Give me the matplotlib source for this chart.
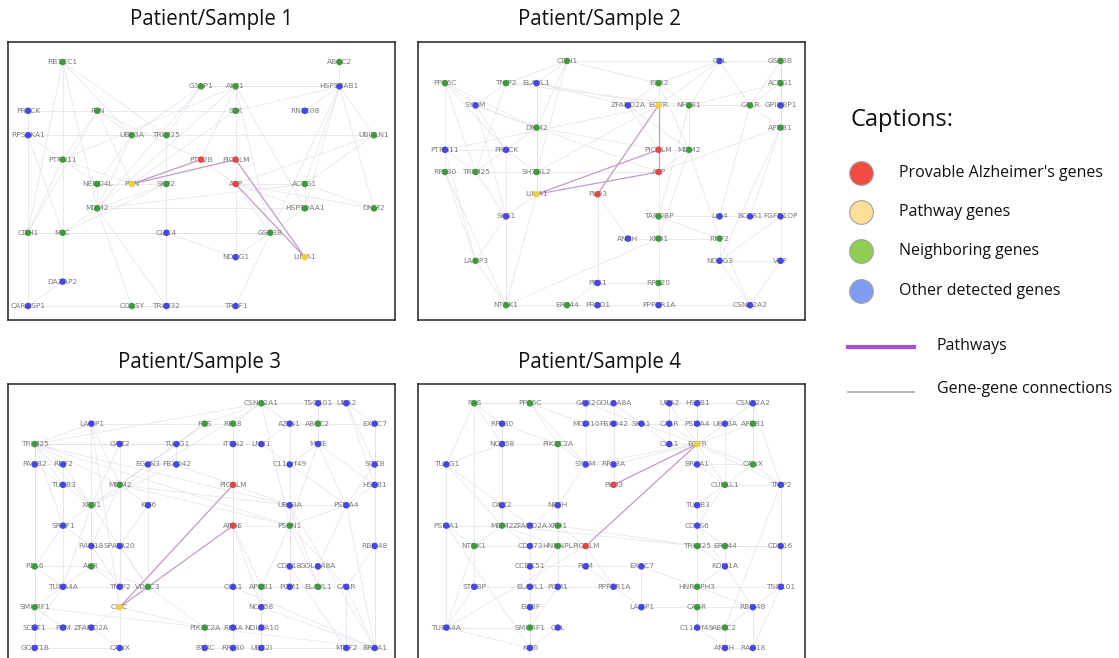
import matplotlib
matplotlib.use("Agg")
import matplotlib.pyplot as plt

W, H = 1119, 658

# gene tables: (name, grid column, grid row, group)
# groups: r = provable Alzheimer's gene, y = pathway gene, g = neighbour, b = other detected
nodes_1 = [
    ("RB1CC1", 1, 0, "g"), ("ABCC2", 9, 0, "g"),
    ("G3BP1", 5, 1, "g"), ("AKT1", 6, 1, "g"), ("HSP90AB1", 9, 1, "b"),
    ("PRKCK", 0, 2, "b"), ("FYN", 2, 2, "g"), ("SYK", 6, 2, "g"), ("RNF208", 8, 2, "b"),
    ("RPS6KA1", 0, 3, "b"), ("UBE3A", 3, 3, "g"), ("TRIM25", 4, 3, "g"), ("UBQLN1", 10, 3, "g"),
    ("PTPN11", 1, 4, "g"), ("PTK2B", 5, 4, "r"), ("PICALM", 6, 4, "r"),
    ("NEDD4L", 2, 5, "g"), ("PXN", 3, 5, "y"), ("SKP2", 4, 5, "g"), ("APP", 6, 5, "r"), ("ACTG1", 8, 5, "g"),
    ("MDM2", 2, 6, "g"), ("HSP90AA1", 8, 6, "g"), ("DNM2", 10, 6, "g"),
    ("CDH1", 0, 7, "g"), ("MYC", 1, 7, "g"), ("CLIC4", 4, 7, "b"), ("GSK3B", 7, 7, "g"),
    ("NDRG1", 6, 8, "b"), ("LIMA1", 8, 8, "y"),
    ("DAZAP2", 1, 9, "b"),
    ("CARHSP1", 0, 10, "b"), ("COASY", 3, 10, "g"), ("TRIM32", 4, 10, "b"), ("TRAF1", 6, 10, "b"),
]
edges_1 = """RB1CC1-PTPN11 RB1CC1-UBE3A RB1CC1-TRIM25 RB1CC1-CDH1 RB1CC1-MDM2 G3BP1-AKT1
G3BP1-HSP90AB1 G3BP1-TRIM25 G3BP1-UBE3A G3BP1-MDM2 AKT1-HSP90AB1 AKT1-SYK AKT1-PTK2B AKT1-GSK3B
AKT1-MDM2 AKT1-PTPN11 AKT1-HSP90AA1 ABCC2-HSP90AB1 HSP90AB1-UBQLN1 HSP90AB1-ACTG1 HSP90AB1-SYK
HSP90AB1-HSP90AA1 HSP90AB1-DNM2 HSP90AB1-GSK3B HSP90AB1-RNF208 PRKCK-RPS6KA1 PRKCK-FYN FYN-PTK2B
FYN-PXN FYN-SYK FYN-UBE3A FYN-PTPN11 FYN-CDH1 SYK-PXN SYK-PICALM RPS6KA1-PTPN11 RPS6KA1-MYC
RPS6KA1-CDH1 RPS6KA1-TRIM25 UBE3A-TRIM25 UBE3A-MDM2 UBE3A-NEDD4L TRIM25-SKP2 TRIM25-UBQLN1
UBQLN1-ACTG1 UBQLN1-APP PTPN11-PXN PTPN11-NEDD4L PTPN11-CDH1 PTPN11-MYC PTK2B-APP PICALM-APP
NEDD4L-MDM2 NEDD4L-SKP2 SKP2-MYC SKP2-MDM2 SKP2-CLIC4 APP-GSK3B APP-NDRG1 APP-ACTG1 APP-HSP90AA1
ACTG1-DNM2 ACTG1-HSP90AA1 HSP90AA1-GSK3B HSP90AA1-MDM2 DNM2-APP MDM2-MYC MDM2-COASY MDM2-TRIM32
CDH1-MYC CDH1-CARHSP1 MYC-GSK3B MYC-DAZAP2 CLIC4-GSK3B GSK3B-NDRG1 GSK3B-TRAF1 NDRG1-CLIC4
DAZAP2-CARHSP1 COASY-TRIM32 TRIM32-CLIC4 TRAF1-COASY CARHSP1-COASY MDM2-ACTG1 CDH1-GSK3B""".split()
paths_1 = "PXN-PTK2B PXN-PICALM PICALM-LIMA1 APP-LIMA1".split()

nodes_2 = [
    ("CDH1", 4, 0, "g"), ("CBL", 9, 0, "b"), ("GSK3B", 11, 0, "g"),
    ("PPP6C", 0, 1, "g"), ("TNIP2", 2, 1, "g"), ("ELAVL1", 3, 1, "b"), ("ESR2", 7, 1, "g"), ("ACTG1", 11, 1, "g"),
    ("SYNM", 1, 2, "b"), ("ZFAND2A", 6, 2, "b"), ("EGFR", 7, 2, "y"), ("NFKB1", 8, 2, "g"),
    ("CALR", 10, 2, "g"), ("GPIHBP1", 11, 2, "b"),
    ("DNM2", 3, 3, "g"), ("APBB1", 11, 3, "g"),
    ("PTPN11", 0, 4, "b"), ("PRKCK", 2, 4, "b"), ("PICALM", 7, 4, "r"), ("MDM2", 8, 4, "g"),
    ("RPL30", 0, 5, "g"), ("TRIM25", 1, 5, "g"), ("SH3GL2", 3, 5, "g"), ("APP", 7, 5, "r"),
    ("LIMA1", 3, 6, "y"), ("PLD3", 5, 6, "r"),
    ("SKA1", 2, 7, "b"), ("TARDBP", 7, 7, "g"), ("LIG4", 9, 7, "b"), ("BCAR1", 10, 7, "b"), ("FGFR1OP", 11, 7, "b"),
    ("ANKH", 6, 8, "b"), ("XPO1", 7, 8, "g"), ("RNF2", 9, 8, "g"),
    ("LAMP3", 1, 9, "g"), ("NDRG3", 9, 9, "b"), ("VGF", 11, 9, "b"),
    ("PES1", 5, 10, "b"), ("RPS20", 7, 10, "g"),
    ("NTRK1", 2, 11, "g"), ("ERP44", 4, 11, "g"), ("PRKD1", 5, 11, "b"), ("PPP1R1A", 7, 11, "b"),
    ("CSNK2A2", 10, 11, "b"),
]
edges_2 = """CDH1-ELAVL1 CDH1-TNIP2 CDH1-ESR2 CDH1-CBL CDH1-DNM2 CDH1-SH3GL2 CBL-GSK3B CBL-EGFR CBL-CALR
CBL-NFKB1 CBL-ESR2 GSK3B-ACTG1 GSK3B-GPIHBP1 GSK3B-VGF GSK3B-APBB1 GSK3B-CALR PPP6C-SYNM PPP6C-PTPN11
PPP6C-PRKCK PPP6C-TRIM25 PPP6C-DNM2 TNIP2-SYNM TNIP2-ELAVL1 TNIP2-NFKB1 TNIP2-TRIM25 ELAVL1-DNM2
ELAVL1-SH3GL2 ELAVL1-ZFAND2A ELAVL1-EGFR ESR2-EGFR ESR2-NFKB1 ESR2-ZFAND2A ESR2-MDM2 ACTG1-CALR
ACTG1-APBB1 ACTG1-NFKB1 SYNM-PRKCK SYNM-SKA1 SYNM-APP SYNM-DNM2 ZFAND2A-PICALM ZFAND2A-MDM2 EGFR-NFKB1
EGFR-PTPN11 EGFR-SH3GL2 EGFR-CALR NFKB1-MDM2 NFKB1-CALR NFKB1-TARDBP CALR-GPIHBP1 CALR-APBB1 CALR-LIG4
APBB1-APP APBB1-BCAR1 APBB1-NDRG3 DNM2-SH3GL2 DNM2-PICALM DNM2-PRKCK DNM2-LIMA1 PTPN11-PRKCK
PTPN11-RPL30 PTPN11-TRIM25 PTPN11-LAMP3 PRKCK-TRIM25 PRKCK-SH3GL2 PRKCK-NTRK1 PICALM-MDM2 MDM2-APP
MDM2-XPO1 MDM2-RNF2 RPL30-TRIM25 RPL30-LAMP3 RPL30-NTRK1 TRIM25-SH3GL2 TRIM25-SKA1 SH3GL2-LIMA1
SH3GL2-APP APP-TARDBP LIMA1-SKA1 LIMA1-NTRK1 PLD3-ANKH PLD3-PES1 SKA1-LAMP3 SKA1-NTRK1 TARDBP-XPO1
TARDBP-LIG4 TARDBP-RNF2 LIG4-BCAR1 BCAR1-FGFR1OP FGFR1OP-NDRG3 ANKH-XPO1 XPO1-RPS20
XPO1-RNF2 XPO1-NTRK1 RNF2-NDRG3 RNF2-CSNK2A2 LAMP3-NTRK1 NDRG3-VGF NDRG3-CSNK2A2 VGF-CSNK2A2
PES1-RPS20 PES1-ERP44 RPS20-PPP1R1A NTRK1-ERP44 ERP44-PRKD1 PRKD1-PPP1R1A PPP1R1A-CSNK2A2""".split()
paths_2 = "EGFR-PICALM EGFR-PLD3 PICALM-LIMA1 APP-LIMA1 PICALM-APP".split()

nodes_3 = [
    ("CSNK2A1", 8, 0, "g"), ("TSG101", 10, 0, "b"), ("UBA2", 11, 0, "b"),
    ("LAMP1", 2, 1, "b"), ("FUS", 6, 1, "g"), ("RPL8", 7, 1, "g"), ("AZIN1", 9, 1, "b"),
    ("ABCC2", 10, 1, "g"), ("EXOC7", 12, 1, "b"),
    ("TRIM25", 0, 2, "g"), ("OAZ2", 3, 2, "b"), ("TUBG1", 5, 2, "b"), ("ITSN2", 7, 2, "b"),
    ("LNX1", 8, 2, "b"), ("MME", 10, 2, "b"),
    ("PAQB2", 0, 3, "b"), ("RNF2", 1, 3, "b"), ("EGLN3", 4, 3, "b"), ("FBXO42", 5, 3, "b"),
    ("C11orf49", 9, 3, "b"), ("SGCB", 12, 3, "b"),
    ("TUBB3", 1, 4, "b"), ("MDM2", 3, 4, "g"), ("PICALM", 7, 4, "r"), ("HSPB1", 12, 4, "b"),
    ("XPO1", 2, 5, "g"), ("KIF6", 4, 5, "b"), ("UBE3A", 9, 5, "b"), ("PSMA4", 11, 5, "b"),
    ("SRSF1", 1, 6, "b"), ("APOE", 7, 6, "r"), ("PSEN1", 9, 6, "g"),
    ("RAD18", 2, 7, "b"), ("SPATA20", 3, 7, "b"), ("RBM48", 12, 7, "b"),
    ("RPL6", 0, 8, "g"), ("AHR", 2, 8, "g"), ("CDK18", 9, 8, "b"), ("GOLGA8A", 10, 8, "b"),
    ("TUBA4A", 1, 9, "b"), ("TNIP2", 3, 9, "b"), ("VDAC3", 4, 9, "g"), ("CUL1", 7, 9, "b"),
    ("APBB1", 8, 9, "g"), ("PCM1", 9, 9, "b"), ("ELAVL1", 10, 9, "g"), ("CALR", 11, 9, "b"),
    ("SMURF1", 0, 10, "g"), ("CLTC", 3, 10, "y"), ("NOP58", 8, 10, "b"),
    ("SCRT1", 0, 11, "b"), ("PKM", 1, 11, "b"), ("ZFAND2A", 2, 11, "b"), ("PIK3C2A", 6, 11, "g"),
    ("RPSA", 7, 11, "b"), ("NDUFA10", 8, 11, "b"),
    ("GOLT1B", 0, 12, "b"), ("CANX", 3, 12, "b"), ("BTRC", 6, 12, "b"), ("RPL30", 7, 12, "b"),
    ("UBE2I", 8, 12, "b"), ("MTIF2", 11, 12, "b"), ("BRCA1", 12, 12, "b"),
]
edges_3 = """TRIM25-OAZ2 TRIM25-TUBG1 TRIM25-MDM2 TRIM25-XPO1 TRIM25-PAQB2 TRIM25-RNF2 TRIM25-TUBB3
TRIM25-SRSF1 TRIM25-RPL6 TRIM25-ITSN2 TRIM25-UBE3A TRIM25-PSEN1 TRIM25-SMURF1 TRIM25-CSNK2A1
LAMP1-MDM2 LAMP1-TRIM25 LAMP1-FUS LAMP1-XPO1 CSNK2A1-TSG101 CSNK2A1-UBA2 CSNK2A1-FUS CSNK2A1-RPL8
CSNK2A1-AZIN1 CSNK2A1-PSEN1 CSNK2A1-XPO1 TSG101-UBA2 TSG101-MME TSG101-ABCC2 UBA2-EXOC7 UBA2-SGCB
UBA2-HSPB1 FUS-RPL8 FUS-TUBG1 FUS-MDM2 FUS-EGLN3 RPL8-ITSN2 RPL8-PICALM AZIN1-ABCC2 AZIN1-LNX1
AZIN1-C11orf49 ABCC2-MME ABCC2-EXOC7 EXOC7-SGCB EXOC7-HSPB1 OAZ2-TUBG1 OAZ2-MDM2 OAZ2-XPO1
TUBG1-EGLN3 TUBG1-FBXO42 TUBG1-MDM2 ITSN2-LNX1 ITSN2-PICALM LNX1-C11orf49 MME-C11orf49 MME-PSMA4
MME-HSPB1 MME-PSEN1 PAQB2-RNF2 PAQB2-TUBB3 PAQB2-RPL6 PAQB2-SMURF1 RNF2-TUBB3 RNF2-XPO1
EGLN3-FBXO42 EGLN3-MDM2 EGLN3-KIF6 FBXO42-PICALM FBXO42-XPO1 C11orf49-UBE3A C11orf49-PSMA4
SGCB-HSPB1 SGCB-PSMA4 TUBB3-XPO1 TUBB3-SRSF1 TUBB3-TUBA4A MDM2-XPO1 MDM2-KIF6 MDM2-SPATA20
MDM2-RAD18 MDM2-PSEN1 MDM2-UBE3A MDM2-TNIP2 PICALM-UBE3A PICALM-APOE PICALM-CUL1 HSPB1-PSMA4
HSPB1-RBM48 HSPB1-BRCA1 XPO1-SRSF1 XPO1-RAD18 XPO1-AHR XPO1-VDAC3 XPO1-TUBA4A KIF6-SPATA20
KIF6-VDAC3 UBE3A-PSEN1 UBE3A-PSMA4 UBE3A-CDK18 UBE3A-ELAVL1 PSMA4-PSEN1 PSMA4-GOLGA8A PSMA4-BRCA1
SRSF1-RAD18 SRSF1-RPL6 APOE-PSEN1 APOE-CUL1 APOE-APBB1 APOE-NOP58 PSEN1-CDK18 PSEN1-APBB1
PSEN1-PCM1 PSEN1-ELAVL1 PSEN1-CALR RAD18-SPATA20 RAD18-AHR RAD18-TNIP2 SPATA20-VDAC3 SPATA20-TNIP2
RBM48-CALR RBM48-BRCA1 RPL6-AHR RPL6-SMURF1 RPL6-TUBA4A AHR-TUBA4A AHR-TNIP2 AHR-VDAC3
CDK18-GOLGA8A CDK18-PCM1 GOLGA8A-ELAVL1 TUBA4A-TNIP2 TUBA4A-SMURF1 TUBA4A-SCRT1 TNIP2-VDAC3
VDAC3-CUL1 VDAC3-PIK3C2A CUL1-APBB1 CUL1-RPSA APBB1-PCM1 APBB1-NOP58 PCM1-ELAVL1 ELAVL1-CALR
CALR-MTIF2 CALR-BRCA1 SMURF1-SCRT1 SMURF1-PKM SMURF1-GOLT1B CLTC-CANX CLTC-ZFAND2A CLTC-PIK3C2A
NOP58-NDUFA10 NOP58-UBE2I SCRT1-PKM SCRT1-GOLT1B PKM-ZFAND2A ZFAND2A-CANX PIK3C2A-RPSA PIK3C2A-BTRC
RPSA-NDUFA10 RPSA-RPL30 NDUFA10-UBE2I GOLT1B-CANX BTRC-RPL30 RPL30-UBE2I MTIF2-BRCA1 UBE2I-MTIF2
TRIM25-GOLT1B BRCA1-UBE3A BRCA1-CUL1 BRCA1-NOP58 MTIF2-CDK18 SMURF1-BRCA1 LAMP1-CLTC""".split()
paths_3 = "CLTC-PICALM CLTC-APOE".split()

nodes_4 = [
    ("FUS", 1, 0, "g"), ("PPP6C", 3, 0, "g"), ("GAB2", 5, 0, "b"), ("GOLGA8A", 6, 0, "b"),
    ("UBA2", 8, 0, "b"), ("HSPB1", 9, 0, "b"), ("CSNK2A2", 11, 0, "b"),
    ("RPL30", 2, 1, "b"), ("MCM10", 5, 1, "b"), ("FBXO42", 6, 1, "b"), ("SKA1", 7, 1, "b"),
    ("CALR", 8, 1, "b"), ("PSMA4", 9, 1, "b"), ("UBE3A", 10, 1, "b"), ("APBB1", 11, 1, "g"),
    ("NOP58", 2, 2, "b"), ("PIK3C2A", 4, 2, "g"), ("CUL1", 8, 2, "b"), ("EGFR", 9, 2, "y"),
    ("TUBG1", 0, 3, "b"), ("SYNM", 5, 3, "b"), ("RPS3A", 6, 3, "b"), ("BRCA1", 9, 3, "b"), ("CANX", 11, 3, "g"),
    ("PLD3", 6, 4, "r"), ("CUBLL1", 10, 4, "g"), ("TNIP2", 12, 4, "b"),
    ("OAZ2", 2, 5, "b"), ("NEFH", 4, 5, "b"), ("TUBB3", 9, 5, "b"),
    ("PSMA1", 0, 6, "b"), ("MDM2", 2, 6, "g"), ("ZFAND2A", 3, 6, "b"), ("XPO1", 4, 6, "g"), ("COPS6", 9, 6, "b"),
    ("NTRK1", 1, 7, "g"), ("CDC73", 3, 7, "b"), ("HNRNPL", 4, 7, "g"), ("PICALM", 5, 7, "r"),
    ("TRIM25", 9, 7, "g"), ("ERP44", 10, 7, "g"), ("CDK16", 12, 7, "b"),
    ("CCDC51", 3, 8, "b"), ("PKM", 5, 8, "b"), ("EXOC7", 7, 8, "b"), ("KDM1A", 10, 8, "b"),
    ("STRBP", 1, 9, "b"), ("ELAVL1", 3, 9, "b"), ("PCM1", 4, 9, "b"), ("PPP1R1A", 6, 9, "b"),
    ("HNRNPH3", 9, 9, "g"), ("TSG101", 12, 9, "b"),
    ("EIF3F", 3, 10, "b"), ("LAMP1", 7, 10, "b"), ("CASR", 9, 10, "g"), ("RBM48", 11, 10, "b"),
    ("TUBA4A", 0, 11, "b"), ("SMURF1", 3, 11, "g"), ("CBL", 4, 11, "b"), ("C11orf49", 9, 11, "b"), ("ABCC2", 10, 11, "g"),
    ("KIF6", 3, 12, "b"), ("ANKH", 10, 12, "b"), ("RAD18", 11, 12, "b"),
]
edges_4 = """FUS-RPL30 FUS-PPP6C FUS-NOP58 FUS-TUBG1 FUS-NTRK1 FUS-GAB2 PPP6C-GAB2 PPP6C-PIK3C2A PPP6C-MCM10
PPP6C-SYNM GAB2-GOLGA8A GAB2-MCM10 GAB2-EGFR GOLGA8A-FBXO42 GOLGA8A-SKA1 UBA2-HSPB1 UBA2-CALR
UBA2-CUL1 UBA2-EGFR HSPB1-PSMA4 HSPB1-CSNK2A2 HSPB1-EGFR CSNK2A2-APBB1 CSNK2A2-UBE3A CSNK2A2-CANX
CSNK2A2-TNIP2 RPL30-NOP58 RPL30-PIK3C2A RPL30-OAZ2 MCM10-FBXO42 MCM10-SYNM FBXO42-SKA1 FBXO42-RPS3A
SKA1-CALR SKA1-CUL1 CALR-PSMA4 CALR-EGFR PSMA4-UBE3A PSMA4-EGFR UBE3A-APBB1 UBE3A-EGFR UBE3A-CUBLL1
APBB1-CANX APBB1-EGFR NOP58-PIK3C2A NOP58-OAZ2 NOP58-TUBG1 PIK3C2A-SYNM PIK3C2A-NEFH CUL1-EGFR
CUL1-BRCA1 EGFR-BRCA1 EGFR-CANX EGFR-CUBLL1 EGFR-TNIP2 EGFR-SYNM EGFR-RPS3A TUBG1-PSMA1 TUBG1-OAZ2
TUBG1-MDM2 SYNM-RPS3A SYNM-NEFH RPS3A-PLD3 BRCA1-TUBB3 BRCA1-CANX BRCA1-CUBLL1 CANX-TNIP2
CANX-CUBLL1 CUBLL1-TNIP2 CUBLL1-TUBB3 CUBLL1-COPS6 TNIP2-CDK16 TNIP2-TSG101 OAZ2-NEFH OAZ2-MDM2
OAZ2-ZFAND2A NEFH-XPO1 NEFH-ZFAND2A TUBB3-COPS6 PSMA1-MDM2 PSMA1-NTRK1 PSMA1-TUBA4A
MDM2-ZFAND2A MDM2-XPO1 MDM2-CDC73 MDM2-NTRK1 MDM2-TRIM25 MDM2-HNRNPL ZFAND2A-XPO1 ZFAND2A-CDC73
XPO1-HNRNPL XPO1-PICALM XPO1-TRIM25 COPS6-TRIM25 COPS6-ERP44 COPS6-KDM1A NTRK1-CDC73 NTRK1-STRBP
NTRK1-TUBA4A CDC73-HNRNPL CDC73-CCDC51 HNRNPL-PICALM HNRNPL-PCM1 HNRNPL-ELAVL1 PICALM-PKM
PICALM-PPP1R1A TRIM25-ERP44 TRIM25-HNRNPH3 TRIM25-KDM1A TRIM25-CDK16 ERP44-KDM1A ERP44-CDK16
CDK16-TSG101 CCDC51-PKM CCDC51-ELAVL1 PKM-EXOC7 PKM-PPP1R1A EXOC7-LAMP1 EXOC7-HNRNPH3
KDM1A-HNRNPH3 KDM1A-RBM48 STRBP-ELAVL1 STRBP-TUBA4A ELAVL1-PCM1 ELAVL1-EIF3F PCM1-PPP1R1A
PCM1-SMURF1 PPP1R1A-LAMP1 HNRNPH3-CASR HNRNPH3-TSG101 HNRNPH3-RBM48 TSG101-RBM48 EIF3F-SMURF1
EIF3F-KIF6 LAMP1-CASR CASR-RBM48 CASR-C11orf49 TUBA4A-SMURF1 TUBA4A-KIF6 SMURF1-CBL SMURF1-KIF6
CBL-KIF6 C11orf49-ABCC2 C11orf49-ANKH ABCC2-RBM48 ABCC2-ANKH ANKH-RAD18 RAD18-RBM48 TSG101-RAD18
ABCC2-TNIP2 TUBB3-TRIM25 HNRNPH3-C11orf49 PSMA1-KIF6 TUBA4A-PICALM""".split()
paths_4 = "EGFR-PLD3 EGFR-PICALM".split()

titles = ["Patient/Sample 1", "Patient/Sample 2", "Patient/Sample 3", "Patient/Sample 4"]

# panel frame in pixels (left, top, right, bottom), title centre, and pixel position
# of grid column/row 0 plus spacing
frames = [
    dict(box=(8, 42, 395, 320), tx=212, x0=28, dx=34.6, y0=62, dy=24.4),
    dict(box=(418, 42, 805, 320), tx=599, x0=445, dx=30.5, y0=61, dy=22.2),
    dict(box=(8, 384, 395, 663), tx=200, x0=34.7, dx=28.33, y0=403.3, dy=20.39),
    dict(box=(418, 384, 805, 663), tx=599, x0=446.3, dx=27.87, y0=403.3, dy=20.39),
]

node_colors = {"r": "#e04848", "y": "#efcf3c", "g": "#3f9a3f", "b": "#4646e2"}
edge_color = "#e3dde9"
path_color = "#c39ac6"
title_font = ["Open Sans", "DejaVu Sans"]

fig = plt.figure(figsize=(W / 100, H / 100), dpi=100)
fig.patch.set_facecolor("white")

graphs = [(nodes_1, edges_1, paths_1), (nodes_2, edges_2, paths_2),
          (nodes_3, edges_3, paths_3), (nodes_4, edges_4, paths_4)]

for (nodes, edges, paths), frame, title in zip(graphs, frames, titles):
    l, t, r, b = frame["box"]
    ax = fig.add_axes([l / W, 1 - b / H, (r - l) / W, (b - t) / H])
    ax.set_xlim((l - frame["x0"]) / frame["dx"], (r - frame["x0"]) / frame["dx"])
    ax.set_ylim((b - frame["y0"]) / frame["dy"], (t - frame["y0"]) / frame["dy"])
    ax.set_xticks([])
    ax.set_yticks([])
    for sp in ax.spines.values():
        sp.set_linewidth(1.1)
        sp.set_color("#222222")

    pos = {name: (c, rr) for name, c, rr, _ in nodes}
    for e in edges:
        a, z = e.split("-")
        ax.plot([pos[a][0], pos[z][0]], [pos[a][1], pos[z][1]],
                color=edge_color, lw=0.6, alpha=0.75, zorder=1)
    for e in paths:
        a, z = e.split("-")
        ax.plot([pos[a][0], pos[z][0]], [pos[a][1], pos[z][1]],
                color=path_color, lw=0.9, zorder=1.5)

    for name, c, rr, grp in nodes:
        ax.text(c, rr, name, ha="center", va="center", fontsize=5.4,
                color="#7a7a7a", zorder=2)
    ax.scatter([n[1] for n in nodes], [n[2] for n in nodes],
               c=[node_colors[n[3]] for n in nodes], s=22, linewidths=0, zorder=3)

    fig.text(frame["tx"] / W, 1 - (t - 22) / H, title, ha="center", va="center",
             fontsize=14.8, family=title_font, color="#111111")

# captions box on the right
cap = fig.add_axes([820 / W, 1 - 420 / H, 299 / W, 330 / H])
cap.set_xlim(820, 1119)
cap.set_ylim(420, 90)
cap.axis("off")

cap_labels = ["Provable Alzheimer's genes", "Pathway genes", "Neighboring genes", "Other detected genes"]
cap_colors = ["#f24b3f", "#fde096", "#90cf50", "#7f9cf2"]
cap_rows = [173, 212, 251, 291]

cap.text(851, 120, "Captions:", ha="left", va="center", fontsize=17, family=title_font, color="#111111")
for lab, col, yy in zip(cap_labels, cap_colors, cap_rows):
    cap.scatter([861], [yy], s=290, c=col, edgecolors="#a0a0a0", linewidths=0.8)
    cap.text(899, yy, lab, ha="left", va="center", fontsize=11.5, family=title_font, color="#111111")

cap.plot([848, 914], [347, 347], color="#a64df0", lw=3)
cap.text(937, 346, "Pathways", ha="left", va="center", fontsize=11.5, family=title_font, color="#111111")
cap.plot([848, 914], [392, 392], color="#a8a8a8", lw=1.2)
cap.text(937, 389, "Gene-gene connections", ha="left", va="center", fontsize=11.5, family=title_font, color="#111111")

fig.savefig("out.png", dpi=100, facecolor="white")
